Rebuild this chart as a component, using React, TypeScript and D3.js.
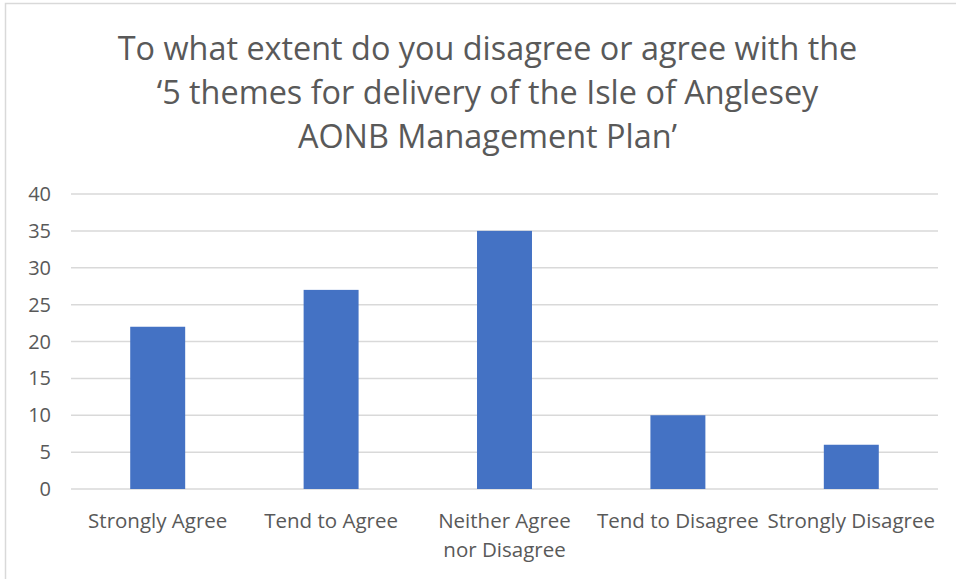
import React from "react"
import * as d3 from "d3"

const WIDTH = 956
const HEIGHT = 579
const MARGIN = { top: 194, right: 18, bottom: 90, left: 71 }
const BAR_FRACTION = 0.317

const TITLE_LINES = [
    "To what extent do you disagree or agree with the",
    "\u20185 themes for delivery of the Isle of Anglesey",
    "AONB Management Plan\u2019",
]
const CATEGORIES = [
    ["Strongly Agree"],
    ["Tend to Agree"],
    ["Neither Agree", "nor Disagree"],
    ["Tend to Disagree"],
    ["Strongly Disagree"],
]
const VALUES = [22, 27, 35, 10, 6]
const Y_TICKS = [0, 5, 10, 15, 20, 25, 30, 35, 40]

const FONT = "'Open Sans', 'Noto Sans', sans-serif"
const TEXT_COLOR = "#595959"
const GRID_COLOR = "#d9d9d9"
const BAR_COLOR = "#4472c4"

export default function App() {
    const boundsWidth = WIDTH - MARGIN.left - MARGIN.right
    const boundsHeight = HEIGHT - MARGIN.top - MARGIN.bottom
    const keys = CATEGORIES.map((c) => c.join(" "))

    const xScale = d3
        .scaleBand()
        .domain(keys)
        .range([0, boundsWidth])
        .paddingInner(1 - BAR_FRACTION)
        .paddingOuter((1 - BAR_FRACTION) / 2)

    const yScale = d3.scaleLinear().domain([0, 40]).range([boundsHeight, 0])

    return (
        <div style={{ position: "absolute", left: 0, top: 0 }}>
            <svg width={WIDTH} height={HEIGHT} style={{ display: "block" }}>
                <rect width={WIDTH} height={HEIGHT} fill="#ffffff" />
                <rect
                    x={5.5}
                    y={3.5}
                    width={WIDTH + 10}
                    height={HEIGHT + 10}
                    fill="none"
                    stroke={GRID_COLOR}
                    strokeWidth={1.5}
                />
                <g fontFamily={FONT} fill={TEXT_COLOR}>
                    {TITLE_LINES.map((line, i) => (
                        <text
                            key={i}
                            x={487.5}
                            y={60 + i * 44}
                            textAnchor="middle"
                            fontSize={32.4}
                        >
                            {line}
                        </text>
                    ))}
                </g>
                <g transform={`translate(${MARGIN.left},${MARGIN.top})`}>
                    {Y_TICKS.map((t) => (
                        <g key={t}>
                            <line
                                x1={0}
                                x2={boundsWidth}
                                y1={yScale(t)}
                                y2={yScale(t)}
                                stroke={GRID_COLOR}
                                strokeWidth={1.5}
                            />
                            <text
                                x={-20}
                                y={yScale(t)}
                                dy="0.35em"
                                textAnchor="end"
                                fontFamily={FONT}
                                fontSize={20}
                                fill={TEXT_COLOR}
                            >
                                {t}
                            </text>
                        </g>
                    ))}
                    {VALUES.map((v, i) => (
                        <rect
                            key={i}
                            x={xScale(keys[i])}
                            y={yScale(v)}
                            width={xScale.bandwidth()}
                            height={yScale(0) - yScale(v)}
                            fill={BAR_COLOR}
                        />
                    ))}
                    {CATEGORIES.map((lines, i) => (
                        <text
                            key={i}
                            y={boundsHeight + 32}
                            textAnchor="middle"
                            fontFamily={FONT}
                            fontSize={20.5}
                            fill={TEXT_COLOR}
                        >
                            {lines.map((l, j) => (
                                <tspan
                                    key={j}
                                    x={(xScale(keys[i]) ?? 0) + xScale.bandwidth() / 2}
                                    dy={j === 0 ? "0.35em" : 29}
                                >
                                    {l}
                                </tspan>
                            ))}
                        </text>
                    ))}
                </g>
            </svg>
        </div>
    )
}
